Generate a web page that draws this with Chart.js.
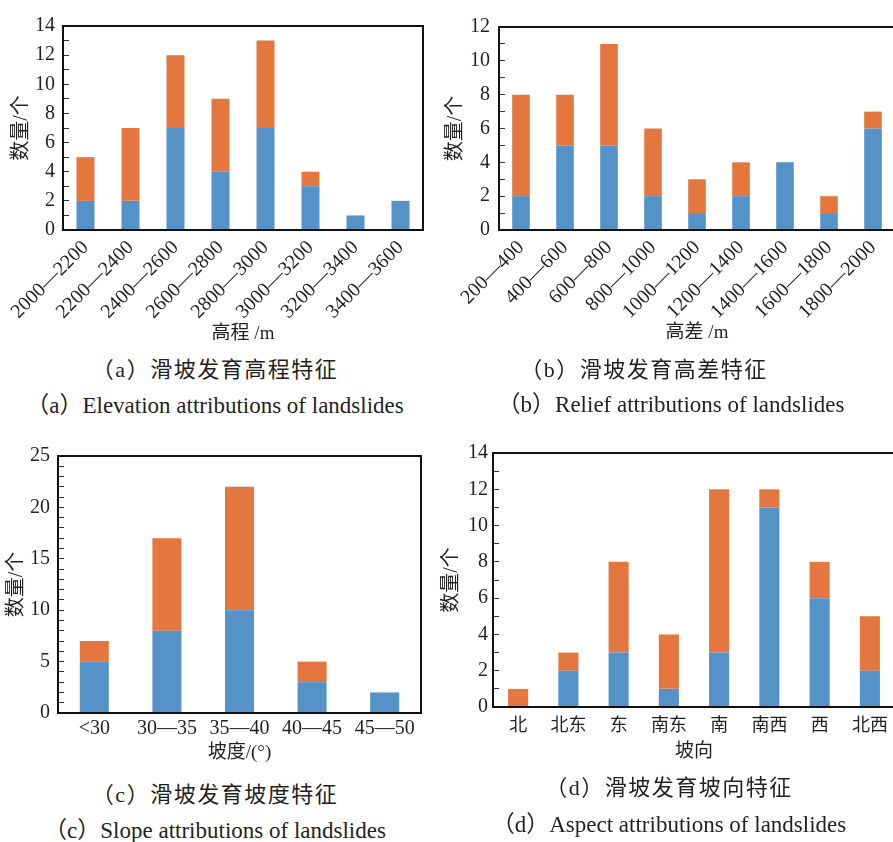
<!DOCTYPE html>
<html>
<head>
<meta charset="utf-8">
<script src="https://cdn.jsdelivr.net/npm/chart.js@4"></script>
<style>
body{margin:0;background:#fff;}
#page{position:relative;width:893px;height:842px;overflow:hidden;background:#fff;}
.box{position:absolute;}
.cap{position:absolute;transform:translate(-50%,-50%);white-space:nowrap;color:#231f20;}
.zh{font-family:"Liberation Serif","Noto Sans CJK SC";font-size:22px;letter-spacing:1.5px;}
.en{font-family:"Liberation Serif","Noto Sans CJK SC";font-size:23px;}
</style>
</head>
<body>
<div id="page">

<div class="box" style="left:0;top:0;width:446px;height:345px"><canvas id="elevChart"></canvas></div>
<div class="box" style="left:440px;top:0;width:465px;height:344px"><canvas id="reliefChart"></canvas></div>
<div class="box" style="left:0;top:430px;width:446px;height:334px"><canvas id="slopeChart"></canvas></div>
<div class="box" style="left:440px;top:430px;width:465px;height:333px"><canvas id="aspectChart"></canvas></div>

<div class="cap zh" style="left:215px;top:367px">（a）滑坡发育高程特征</div>
<div class="cap en" style="left:215px;top:403px">（a）Elevation attributions of landslides</div>
<div class="cap zh" style="left:644px;top:367px">（b）滑坡发育高差特征</div>
<div class="cap en" style="left:671px;top:402px">（b）Relief attributions of landslides</div>
<div class="cap zh" style="left:215px;top:792px">（c）滑坡发育坡度特征</div>
<div class="cap en" style="left:215px;top:828px">（c）Slope attributions of landslides</div>
<div class="cap zh" style="left:669px;top:785px">（d）滑坡发育坡向特征</div>
<div class="cap en" style="left:669px;top:822px">（d）Aspect attributions of landslides</div>

</div>

<script>

// ================= DATA =================

const elevLabels = ["2000—2200","2200—2400","2400—2600","2600—2800","2800—3000","3000—3200","3200—3400","3400—3600"];
const elevBlue   = [2,2,7,4,7,3,1,2];
const elevOrange = [3,5,5,5,6,1,0,0];

const reliefLabels = ["200—400","400—600","600—800","800—1000","1000—1200","1200—1400","1400—1600","1600—1800","1800—2000"];
const reliefBlue   = [2,5,5,2,1,2,4,1,6];
const reliefOrange = [6,3,6,4,2,2,0,1,1];

const slopeLabels = ["<30","30—35","35—40","40—45","45—50"];
const slopeBlue   = [5,8,10,3,2];
const slopeOrange = [2,9,12,2,0];

const aspectLabels = ["北","北东","东","南东","南","南西","西","北西"];
const aspectBlue   = [0,2,3,1,3,11,6,2];
const aspectOrange = [1,1,5,3,9,1,2,3];

const BLUE = "#5592c8";
const ORANGE = "#e3773f";
const INK = "#231f20";
const SERIF = "'Liberation Serif', 'Noto Sans CJK SC'";


// frame round the plot area
const framePlugin = {
  id: "frame",
  afterDraw(chart){
    const a = chart.chartArea;
    const ctx = chart.ctx;
    ctx.save();
    ctx.strokeStyle = "#111";
    ctx.lineWidth = 2;
    ctx.strokeRect(a.left, a.top, a.right - a.left, a.bottom - a.top);
    ctx.restore();
  }
};


function makeChart(id, labels, blue, orange, c){

  new Chart(document.getElementById(id), {

    type: "bar",

    data: {
      labels: labels,
      datasets: [
        { data: blue, backgroundColor: BLUE, borderWidth: 0 },
        { data: orange, backgroundColor: ORANGE, borderWidth: 0 }
      ]
    },

    options: {
      responsive: true,
      maintainAspectRatio: false,
      animation: false,
      layout: { padding: { top: c.padTop, right: c.padRight, left: 0, bottom: 0 } },
      plugins: { legend: { display: false }, tooltip: { enabled: false } },
      datasets: { bar: { barPercentage: 0.4, categoryPercentage: 1 } },
      scales: {
        x: {
          stacked: true,
          grid: { display: false, drawTicks: false },
          border: { display: false },
          ticks: {
            color: INK,
            padding: c.xPad,
            minRotation: c.rot,
            maxRotation: c.rot,
            autoSkip: false,
            font: c.xFont
          },
          title: {
            display: true,
            text: c.xTitle,
            color: INK,
            padding: 0,
            font: { family: SERIF, size: 19 }
          },
          afterFit: s => { s.height = c.xHeight; }
        },
        y: {
          stacked: true,
          min: 0,
          max: c.yMax,
          grid: {
            drawOnChartArea: false,
            drawTicks: true,
            tickLength: -6,
            color: "#333"
          },
          border: { display: false },
          ticks: {
            stepSize: 1,
            autoSkip: false,
            color: INK,
            padding: c.yPad,
            font: { family: SERIF, size: 20 },
            callback: v => (v % c.step === 0 ? v : "")
          },
          title: {
            display: true,
            text: "数量/个",
            color: INK,
            padding: { top: c.yTitlePad, bottom: 0 },
            font: { family: SERIF, size: 20 }
          },
          afterFit: s => { s.width = c.yWidth; }
        }
      }
    },

    plugins: [framePlugin]

  });

}


// ================= (a) ELEVATION =================

makeChart("elevChart", elevLabels, elevBlue, elevOrange, {
  yMax: 14, step: 2, yWidth: 63, yPad: 14, yTitlePad: 10,
  xHeight: 115, xPad: 6, rot: 45, padTop: 15, padRight: 23,
  xTitle: "高程 /m", xFont: { family: SERIF, size: 20 }
});


// ================= (b) RELIEF =================

makeChart("reliefChart", reliefLabels, reliefBlue, reliefOrange, {
  yMax: 12, step: 2, yWidth: 59, yPad: 15, yTitlePad: 4,
  xHeight: 114, xPad: 6, rot: 45, padTop: 15, padRight: 10,
  xTitle: "高差 /m", xFont: { family: SERIF, size: 20 }
});


// ================= (c) SLOPE =================

makeChart("slopeChart", slopeLabels, slopeBlue, slopeOrange, {
  yMax: 25, step: 5, yWidth: 58, yPad: 14, yTitlePad: 5,
  xHeight: 51, xPad: 4, rot: 0, padTop: 18, padRight: 25,
  xTitle: "坡度/(°)", xFont: { family: SERIF, size: 20 }
});


// ================= (d) ASPECT =================

makeChart("aspectChart", aspectLabels, aspectBlue, aspectOrange, {
  yMax: 14, step: 2, yWidth: 53, yPad: 11, yTitlePad: 0,
  xHeight: 56, xPad: 6, rot: 0, padTop: 15, padRight: 10,
  xTitle: "坡向", xFont: { family: "'Noto Sans CJK SC'", size: 18 }
});

</script>
</body>
</html>
